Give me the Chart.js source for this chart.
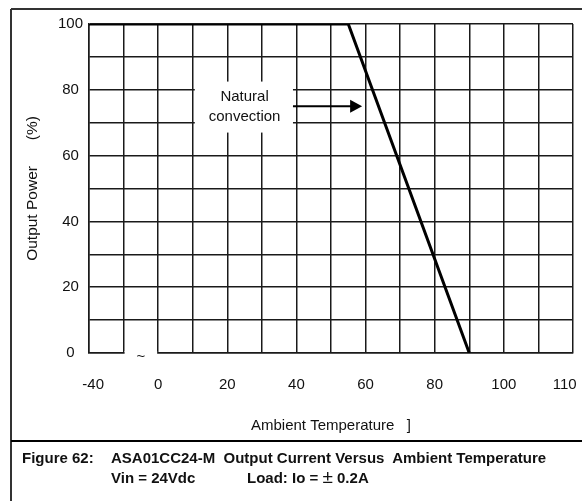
<!DOCTYPE html>
<html>
<head>
<meta charset="utf-8">
<script src="https://cdn.jsdelivr.net/npm/chart.js@4"></script>
<style>
  body { margin: 0; background: #fff; }
  #wrap { position: relative; width: 582px; height: 501px; }
  .cap { position: absolute; font: bold 15px "Liberation Sans", Arial, sans-serif; color: #111; line-height: 20px; white-space: pre; }
  .pm { font-size: 19px; font-weight: normal; line-height: 0; }
</style>
</head>
<body>
<div id="wrap">
  <canvas id="chart" width="582" height="501"></canvas>
  <div class="cap" style="left:22px; top:448px;">Figure 62:</div>
  <div class="cap" style="left:111px; top:448px;">ASA01CC24-M  Output Current Versus  Ambient Temperature</div>
  <div class="cap" style="left:111px; top:468px;">Vin = 24Vdc</div>
  <div class="cap" style="left:247px; top:468px;">Load: Io = <span class="pm">±</span> 0.2A</div>
</div>
<script>
// derating curve
const tempC = [-40, 55, 90];
const outputPct = [100, 100, 0];

// end labels sit slightly inside the plot in the original, hence the padding spaces
const xTickLabels = ['  -40', '', '0', '', '20', '', '40', '', '60', '', '80', '', '100', '', '110    '];
const yTickLabels = ['0', '', '20', '', '40', '', '60', '', '80', '', '100'];

// x axis is broken: -40..0 squeezed into two columns, 100..110 stretched over two
function toAxis(t) {
  if (t < 0) return -20 + (t + 40) / 2;
  if (t > 100) return 100 + (t - 100) * 2;
  return t;
}

const FONT = '"Liberation Sans", Arial, sans-serif';
const INK = '#111';

const framePlugin = {
  id: 'frame',
  beforeDraw(chart) {
    const ctx = chart.ctx;
    ctx.save();
    ctx.strokeStyle = '#333';
    ctx.lineWidth = 2;
    ctx.beginPath();
    ctx.moveTo(11, 9); ctx.lineTo(582, 9);
    ctx.moveTo(11, 9); ctx.lineTo(11, 501);
    ctx.stroke();
    ctx.strokeStyle = '#000';
    ctx.beginPath();
    ctx.moveTo(11, 441); ctx.lineTo(582, 441);
    ctx.stroke();
    ctx.restore();
  }
};

const notePlugin = {
  id: 'note',
  beforeDatasetsDraw(chart) {
    const { ctx, scales: { x, y } } = chart;
    ctx.save();
    // axis break on the bottom border
    const b0 = x.getPixelForValue(toAxis(-20)) + 1;
    const b1 = x.getPixelForValue(toAxis(0)) - 1;
    const yb = y.getPixelForValue(0);
    ctx.fillStyle = '#fff';
    ctx.fillRect(b0, yb - 2, b1 - b0, 4);
    ctx.fillStyle = INK;
    ctx.font = '15px ' + FONT;
    ctx.textAlign = 'center';
    ctx.textBaseline = 'middle';
    ctx.fillText('~', (b0 + b1) / 2, yb + 4);

    // label box that cuts the grid
    const lx0 = x.getPixelForValue(10.6), lx1 = x.getPixelForValue(39);
    const ly0 = y.getPixelForValue(82.5), ly1 = y.getPixelForValue(67);
    ctx.fillStyle = '#fff';
    ctx.fillRect(lx0, ly0, lx1 - lx0, ly1 - ly0);
    ctx.fillStyle = INK;
    ctx.fillText('Natural', x.getPixelForValue(25), y.getPixelForValue(77.8));
    ctx.fillText('convection', x.getPixelForValue(25), y.getPixelForValue(71.7));

    // arrow
    const ay = y.getPixelForValue(75);
    const ax0 = x.getPixelForValue(39), ax1 = x.getPixelForValue(59);
    ctx.strokeStyle = '#000';
    ctx.lineWidth = 2;
    ctx.beginPath();
    ctx.moveTo(ax0, ay); ctx.lineTo(ax1 - 10, ay);
    ctx.stroke();
    ctx.fillStyle = '#000';
    ctx.beginPath();
    ctx.moveTo(ax1, ay); ctx.lineTo(ax1 - 12, ay - 6.5); ctx.lineTo(ax1 - 12, ay + 6.5);
    ctx.closePath();
    ctx.fill();
    ctx.restore();
  }
};

new Chart(document.getElementById('chart'), {
  type: 'line',
  data: {
    datasets: [{
      data: tempC.map((t, i) => ({ x: toAxis(t), y: outputPct[i] })),
      borderColor: '#000',
      borderWidth: 3,
      pointRadius: 0,
      tension: 0,
      fill: false
    }]
  },
  options: {
    responsive: false,
    animation: false,
    events: [],
    layout: { padding: { left: 14, top: 24, right: 9, bottom: 66 } },
    plugins: { legend: { display: false }, tooltip: { enabled: false } },
    scales: {
      x: {
        type: 'linear',
        min: -20,
        max: 120,
        afterFit(scale) { scale.height = 82; scale.paddingLeft = 0; scale.paddingRight = 0; },
        ticks: {
          stepSize: 10,
          autoSkip: false,
          maxRotation: 0,
          padding: 23,
          color: INK,
          font: { family: FONT, size: 15 },
          callback: (v, i) => xTickLabels[i]
        },
        grid: { color: '#1a1a1a', lineWidth: 1.5, drawTicks: false },
        border: { color: '#1a1a1a', width: 1.5 },
        title: {
          display: true,
          text: 'Ambient Temperature   ]',
          color: INK,
          font: { family: FONT, size: 15 },
          padding: { top: 0, bottom: 0 }
        }
      },
      y: {
        min: 0,
        max: 100,
        afterFit(scale) { scale.width = 75; },
        ticks: {
          stepSize: 10,
          crossAlign: 'center',
          padding: 6,
          color: INK,
          font: { family: FONT, size: 15 },
          callback: (v, i) => yTickLabels[i]
        },
        grid: { color: '#1a1a1a', lineWidth: 1.5, drawTicks: false },
        border: { color: '#1a1a1a', width: 1.5 },
        title: {
          display: true,
          text: 'Output Power      (%)',
          color: INK,
          font: { family: FONT, size: 15.5 },
          padding: { top: 9, bottom: 0 }
        }
      }
    }
  },
  plugins: [framePlugin, notePlugin]
});
</script>
</body>
</html>
